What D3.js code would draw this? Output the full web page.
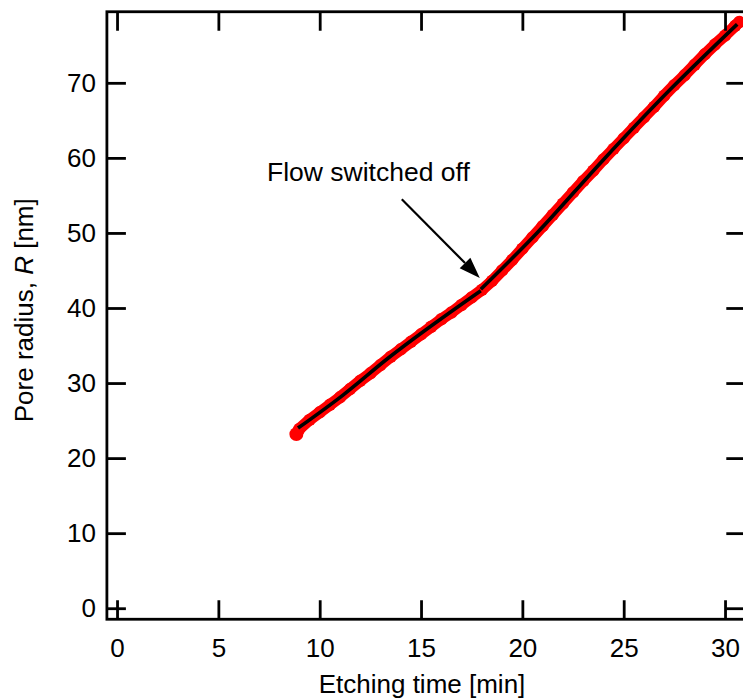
<!DOCTYPE html>
<html>
<head>
<meta charset="utf-8">
<script src="https://cdn.jsdelivr.net/npm/d3@7"></script>
<style>
  html, body { margin: 0; padding: 0; background: #fff; }
  svg { display: block; }
  text { font-family: "Liberation Sans", Arial, sans-serif; fill: #000; }
</style>
</head>
<body>
<svg id="chart" width="743" height="700"></svg>
<script>
// ---- data ----
const etchTime = [8.85, 9.0, 9.5, 10, 10.5, 11, 11.5, 12, 12.5, 13, 13.5, 14, 14.5, 15, 15.5, 16, 16.5, 17, 17.5, 18,
                  18.5, 19, 19.5, 20, 20.5, 21, 21.5, 22, 22.5, 23, 23.5, 24, 24.5, 25, 25.5, 26, 26.5, 27, 27.5, 28,
                  28.5, 29, 29.5, 30, 30.5, 30.7];
const poreRadius = [23.2, 23.9, 25.1, 26.1, 27.1, 28.1, 29.2, 30.3, 31.3, 32.4, 33.5, 34.5, 35.5, 36.5, 37.5, 38.5, 39.4, 40.4, 41.4, 42.4,
                    43.6, 45.0, 46.4, 47.9, 49.4, 50.9, 52.4, 53.9, 55.4, 56.9, 58.3, 59.8, 61.2, 62.6, 64.0, 65.4, 66.8, 68.3, 69.7, 71.0,
                    72.4, 73.8, 75.1, 76.3, 77.6, 78.1];
// fitted lines (two regimes)
const fit1Time = [8.93, 11.15, 13.37, 17.95];
const fit1R    = [24.0, 28.4, 33.3, 42.3];
const fit2Time = [17.95, 20.71, 23.99, 27.28, 30.6];
const fit2R    = [42.5, 49.96, 59.73, 69.07, 77.8];

const xTicks = [0, 5, 10, 15, 20, 25, 30];
const yTicks = [0, 10, 20, 30, 40, 50, 60, 70];
const xDomain = [-0.5, 31.0];
const yDomain = [-1.47, 79.47];

const annotationText = "Flow switched off";
const annotationPos = [7.4, 56.9];
const arrowFrom = [14.05, 54.5];
const arrowTo = [17.9, 44.0];

// ---- layout ----
const svg = d3.select("#chart");
const pLeft = 106.9, pRight = 745.3, pTop = 11.75, pBottom = 619.25;
const x = d3.scaleLinear().domain(xDomain).range([pLeft, pRight]);
const y = d3.scaleLinear().domain(yDomain).range([pBottom, pTop]);
const tickLen = 19;

const fontSize = 26;

// data (red)
const pts = etchTime.map((t, i) => [t, poreRadius[i]]);
const line = d3.line().x(d => x(d[0])).y(d => y(d[1]));
svg.append("path").datum(pts).attr("d", line)
  .attr("fill", "none").attr("stroke", "#ff0000").attr("stroke-width", 11.5)
  .attr("stroke-linecap", "round").attr("stroke-linejoin", "round");
svg.append("g").selectAll("circle").data(pts).join("circle")
  .attr("cx", d => x(d[0])).attr("cy", d => y(d[1]))
  .attr("r", (d, i) => i === 0 ? 7 : 6.2).attr("fill", "#ff0000");

// fits (black)
[[fit1Time, fit1R], [fit2Time, fit2R]].forEach(([ts, rs]) => {
  const d = ts.map((t, i) => [t, rs[i]]);
  svg.append("path").datum(d).attr("d", d3.line().curve(d3.curveMonotoneX).x(p => x(p[0])).y(p => y(p[1])))
    .attr("fill", "none").attr("stroke", "#000").attr("stroke-width", 3.6);
});

// axes
const axisW = 2.8;
const gB = svg.append("g").attr("transform", `translate(0,${pBottom})`)
  .call(d3.axisBottom(x).tickValues(xTicks).tickSize(-tickLen).tickPadding(19.5).tickFormat(d3.format("d")));
const gT = svg.append("g").attr("transform", `translate(0,${pTop})`)
  .call(d3.axisTop(x).tickValues(xTicks).tickSize(-tickLen).tickFormat(""));
const gL = svg.append("g").attr("transform", `translate(${pLeft},0)`)
  .call(d3.axisLeft(y).tickValues(yTicks).tickSize(-tickLen).tickPadding(11).tickFormat(d3.format("d")));
const gR = svg.append("g").attr("transform", `translate(${pRight},0)`)
  .call(d3.axisRight(y).tickValues(yTicks).tickSize(-tickLen).tickFormat(""));
[gB, gT, gL, gR].forEach(g => {
  g.select(".domain").remove();
  g.selectAll(".tick line").attr("stroke", "#000").attr("stroke-width", axisW);
  g.selectAll(".tick text").attr("font-size", fontSize).attr("fill", "#000")
    .style("font-family", '"Liberation Sans", Arial, sans-serif');
});
svg.append("rect").attr("x", pLeft).attr("y", pTop).attr("width", pRight - pLeft).attr("height", pBottom - pTop)
  .attr("fill", "none").attr("stroke", "#000").attr("stroke-width", axisW);

// axis titles
svg.append("text").attr("x", (x(0) + x(30)) / 2 + 1).attr("y", 692.5)
  .attr("text-anchor", "middle").attr("font-size", fontSize).text("Etching time [min]");
const yt = svg.append("text").attr("transform", `translate(33,${y(39.7)}) rotate(-90)`)
  .attr("text-anchor", "middle").attr("font-size", fontSize);
yt.append("tspan").text("Pore radius, ");
yt.append("tspan").attr("font-style", "italic").text("R");
yt.append("tspan").text(" [nm]");

// annotation
svg.append("text").attr("x", x(annotationPos[0])).attr("y", y(annotationPos[1]))
  .attr("font-size", 26.5).text(annotationText);
const ax1 = x(arrowFrom[0]), ay1 = y(arrowFrom[1]), ax2 = x(arrowTo[0]), ay2 = y(arrowTo[1]);
const ang = Math.atan2(ay2 - ay1, ax2 - ax1);
const headLen = 21, headW = 7.5;
const bx = ax2 - headLen * Math.cos(ang), by = ay2 - headLen * Math.sin(ang);
svg.append("line").attr("x1", ax1).attr("y1", ay1).attr("x2", bx).attr("y2", by)
  .attr("stroke", "#000").attr("stroke-width", 2.2);
svg.append("path").attr("d", `M${ax2},${ay2} L${bx + headW * Math.sin(ang)},${by - headW * Math.cos(ang)} L${bx - headW * Math.sin(ang)},${by + headW * Math.cos(ang)} Z`)
  .attr("fill", "#000");
</script>
</body>
</html>
